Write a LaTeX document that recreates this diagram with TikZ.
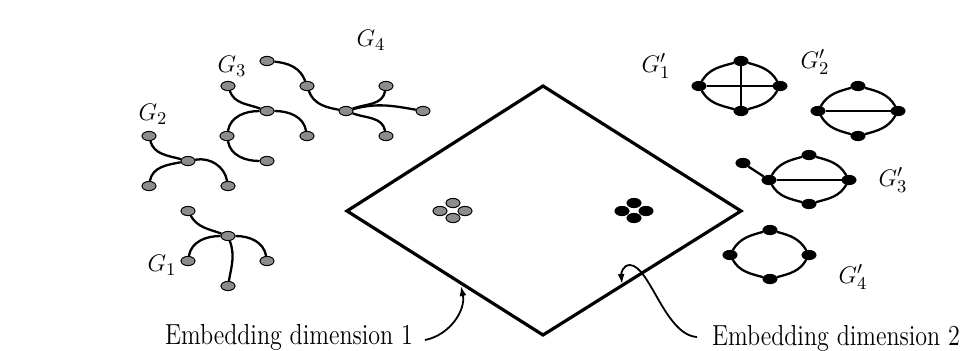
\documentclass[tikz,border=0pt]{standalone}
\usepackage{tikz}
\usetikzlibrary{shapes.geometric, arrows.meta}
\definecolor{vtxgray}{HTML}{8C8C8C}

\begin{document}
\begin{tikzpicture}[
  x=0.5pt, y=0.5pt,
  gv/.style={draw, ellipse, fill=vtxgray, line width=0.5pt, minimum width=7pt, minimum height=4.6pt, inner sep=0pt},
  bv/.style={draw, ellipse, fill=black, line width=0.5pt, minimum width=7pt, minimum height=4.6pt, inner sep=0pt},
  lnk/.style={line width=1.15pt},
  lbl/.style={font=\fontsize{13}{15}\selectfont, inner sep=0pt},
  axl/.style={font=\fontsize{14.5}{17}\selectfont, xscale=0.83, inner sep=0pt},
  arr/.style={-{Latex[length=5pt,width=3.5pt]}, line width=0.9pt}
]
\useasboundingbox (0,0) rectangle (963,350);

% embedding plane
\coordinate (dl) at (347,139);
\coordinate (dt) at (543,264);
\coordinate (dr) at (741,139);
\coordinate (db) at (543,15);
\draw[line width=1.6pt, line join=miter] (dl) -- (dt) -- (dr) -- (db) -- cycle;

% embedded points
\node[gv] (p1) at (453,147) {};
\node[gv] (p2) at (440,139) {};
\node[gv] (p3) at (465,139) {};
\node[gv] (p4) at (453,132) {};
\node[bv] (q1) at (634,147) {};
\node[bv] (q2) at (622,139) {};
\node[bv] (q3) at (646,139) {};
\node[bv] (q4) at (634,132) {};

% G1
\node[gv] (g1a) at (188,139) {};
\node[gv] (g1c) at (228,114) {};
\node[gv] (g1b) at (188,89) {};
\node[gv] (g1d) at (267,89) {};
\node[gv] (g1e) at (228,64) {};
\draw[lnk] (g1a) to[out=-60,in=160] (g1c);
\draw[lnk] (g1c) to[out=180,in=80] (g1b);
\draw[lnk] (g1c) to[out=0,in=100] (g1d);
\draw[lnk] (g1c) to[out=-70,in=80] (g1e);
\node[lbl] (l1) at (162,85) {$G_1$};

% G2
\node[gv] (g2a) at (149,214) {};
\node[gv] (g2c) at (188,189) {};
\node[gv] (g2b) at (149,164) {};
\node[gv] (g2d) at (228,164) {};
\draw[lnk] (g2a) to[out=-75,in=165] (g2c);
\draw[lnk] (g2c) to[out=10,in=100] (g2d);
\draw[lnk] (g2b) to[out=80,in=190] (g2c);
\node[lbl] (l2) at (153,236) {$G_2$};

% G3
\node[gv] (g3a) at (228,264) {};
\node[gv] (g3c) at (267,239) {};
\node[gv] (g3d) at (307,214) {};
\node[gv] (g3b) at (227,214) {};
\node[gv] (g3e) at (267,189) {};
\draw[lnk] (g3a) to[out=-70,in=160] (g3c);
\draw[lnk] (g3c) to[out=0,in=100] (g3d);
\draw[lnk] (g3c) to[out=180,in=80] (g3b);
\draw[lnk] (g3b) to[out=-80,in=180] (g3e);
\node[lbl] (l3) at (232,284) {$G_3$};

% G4
\node[gv] (g4a) at (267,289) {};
\node[gv] (g4b) at (307,264) {};
\node[gv] (g4c) at (346,239) {};
\node[gv] (g4d) at (386,264) {};
\node[gv] (g4e) at (423,239) {};
\node[gv] (g4f) at (386,214) {};
\draw[lnk] (g4a) to[out=-5,in=110] (g4b);
\draw[lnk] (g4b) to[out=-70,in=170] (g4c);
\draw[lnk] (g4c) to[out=20,in=-100] (g4d);
\draw[lnk] (g4c) to[out=15,in=170] (g4e);
\draw[lnk] (g4c) to[out=-20,in=100] (g4f);
\node[lbl] (l4) at (371,310) {$G_4$};

% G'1
\node[bv] (h1l) at (699,264) {};
\node[bv] (h1t) at (741,289) {};
\node[bv] (h1r) at (780,264) {};
\node[bv] (h1b) at (741,239) {};
\draw[lnk] (h1l) to[out=60,in=195] (h1t);
\draw[lnk] (h1t) to[out=-15,in=120] (h1r);
\draw[lnk] (h1r) to[out=-120,in=15] (h1b);
\draw[lnk] (h1b) to[out=165,in=-60] (h1l);
\draw[lnk] (h1l) -- (h1r);
\draw[lnk] (h1t) -- (h1b);
\node[lbl] (m1) at (656,284) {$G'_1$};

% G'2
\node[bv] (h2l) at (818,239) {};
\node[bv] (h2t) at (858,264) {};
\node[bv] (h2r) at (898,239) {};
\node[bv] (h2b) at (858,214) {};
\draw[lnk] (h2l) to[out=60,in=195] (h2t);
\draw[lnk] (h2t) to[out=-15,in=120] (h2r);
\draw[lnk] (h2r) to[out=-120,in=15] (h2b);
\draw[lnk] (h2b) to[out=165,in=-60] (h2l);
\draw[lnk] (h2l) -- (h2r);
\node[lbl] (m2) at (815,288) {$G'_2$};

% G'3
\node[bv] (h3p) at (743,187) {};
\node[bv] (h3l) at (769,170) {};
\node[bv] (h3t) at (809,195) {};
\node[bv] (h3r) at (849,170) {};
\node[bv] (h3b) at (809,146) {};
\draw[lnk] (h3l) to[out=60,in=195] (h3t);
\draw[lnk] (h3t) to[out=-15,in=120] (h3r);
\draw[lnk] (h3r) to[out=-120,in=15] (h3b);
\draw[lnk] (h3b) to[out=165,in=-60] (h3l);
\draw[lnk] (h3l) -- (h3r);
\draw[lnk] (h3p) -- (h3l);
\node[lbl] (m3) at (893,170) {$G'_3$};

% G'4
\node[bv] (h4l) at (730,95) {};
\node[bv] (h4t) at (770,120) {};
\node[bv] (h4r) at (809,95) {};
\node[bv] (h4b) at (770,71) {};
\draw[lnk] (h4l) to[out=60,in=195] (h4t);
\draw[lnk] (h4t) to[out=-15,in=120] (h4r);
\draw[lnk] (h4r) to[out=-120,in=15] (h4b);
\draw[lnk] (h4b) to[out=165,in=-60] (h4l);
\node[lbl] (m4) at (853,73) {$G'_4$};

% axis labels
\node[axl, anchor=base] (e1) at (289,6) {Embedding dimension 1};
\node[axl, anchor=base] (e2) at (836,5) {Embedding dimension 2};
\coordinate (e1tip) at (461,64);
\coordinate (e2tip) at (622,66);
\draw[arr] (425,10) .. controls (450,15) and (466,40) .. (e1tip);
\draw[arr] (697,13) .. controls (665,15) and (650,84) .. (630,85) .. controls (623,85) and (621,77) .. (e2tip);
\end{tikzpicture}
\end{document}
